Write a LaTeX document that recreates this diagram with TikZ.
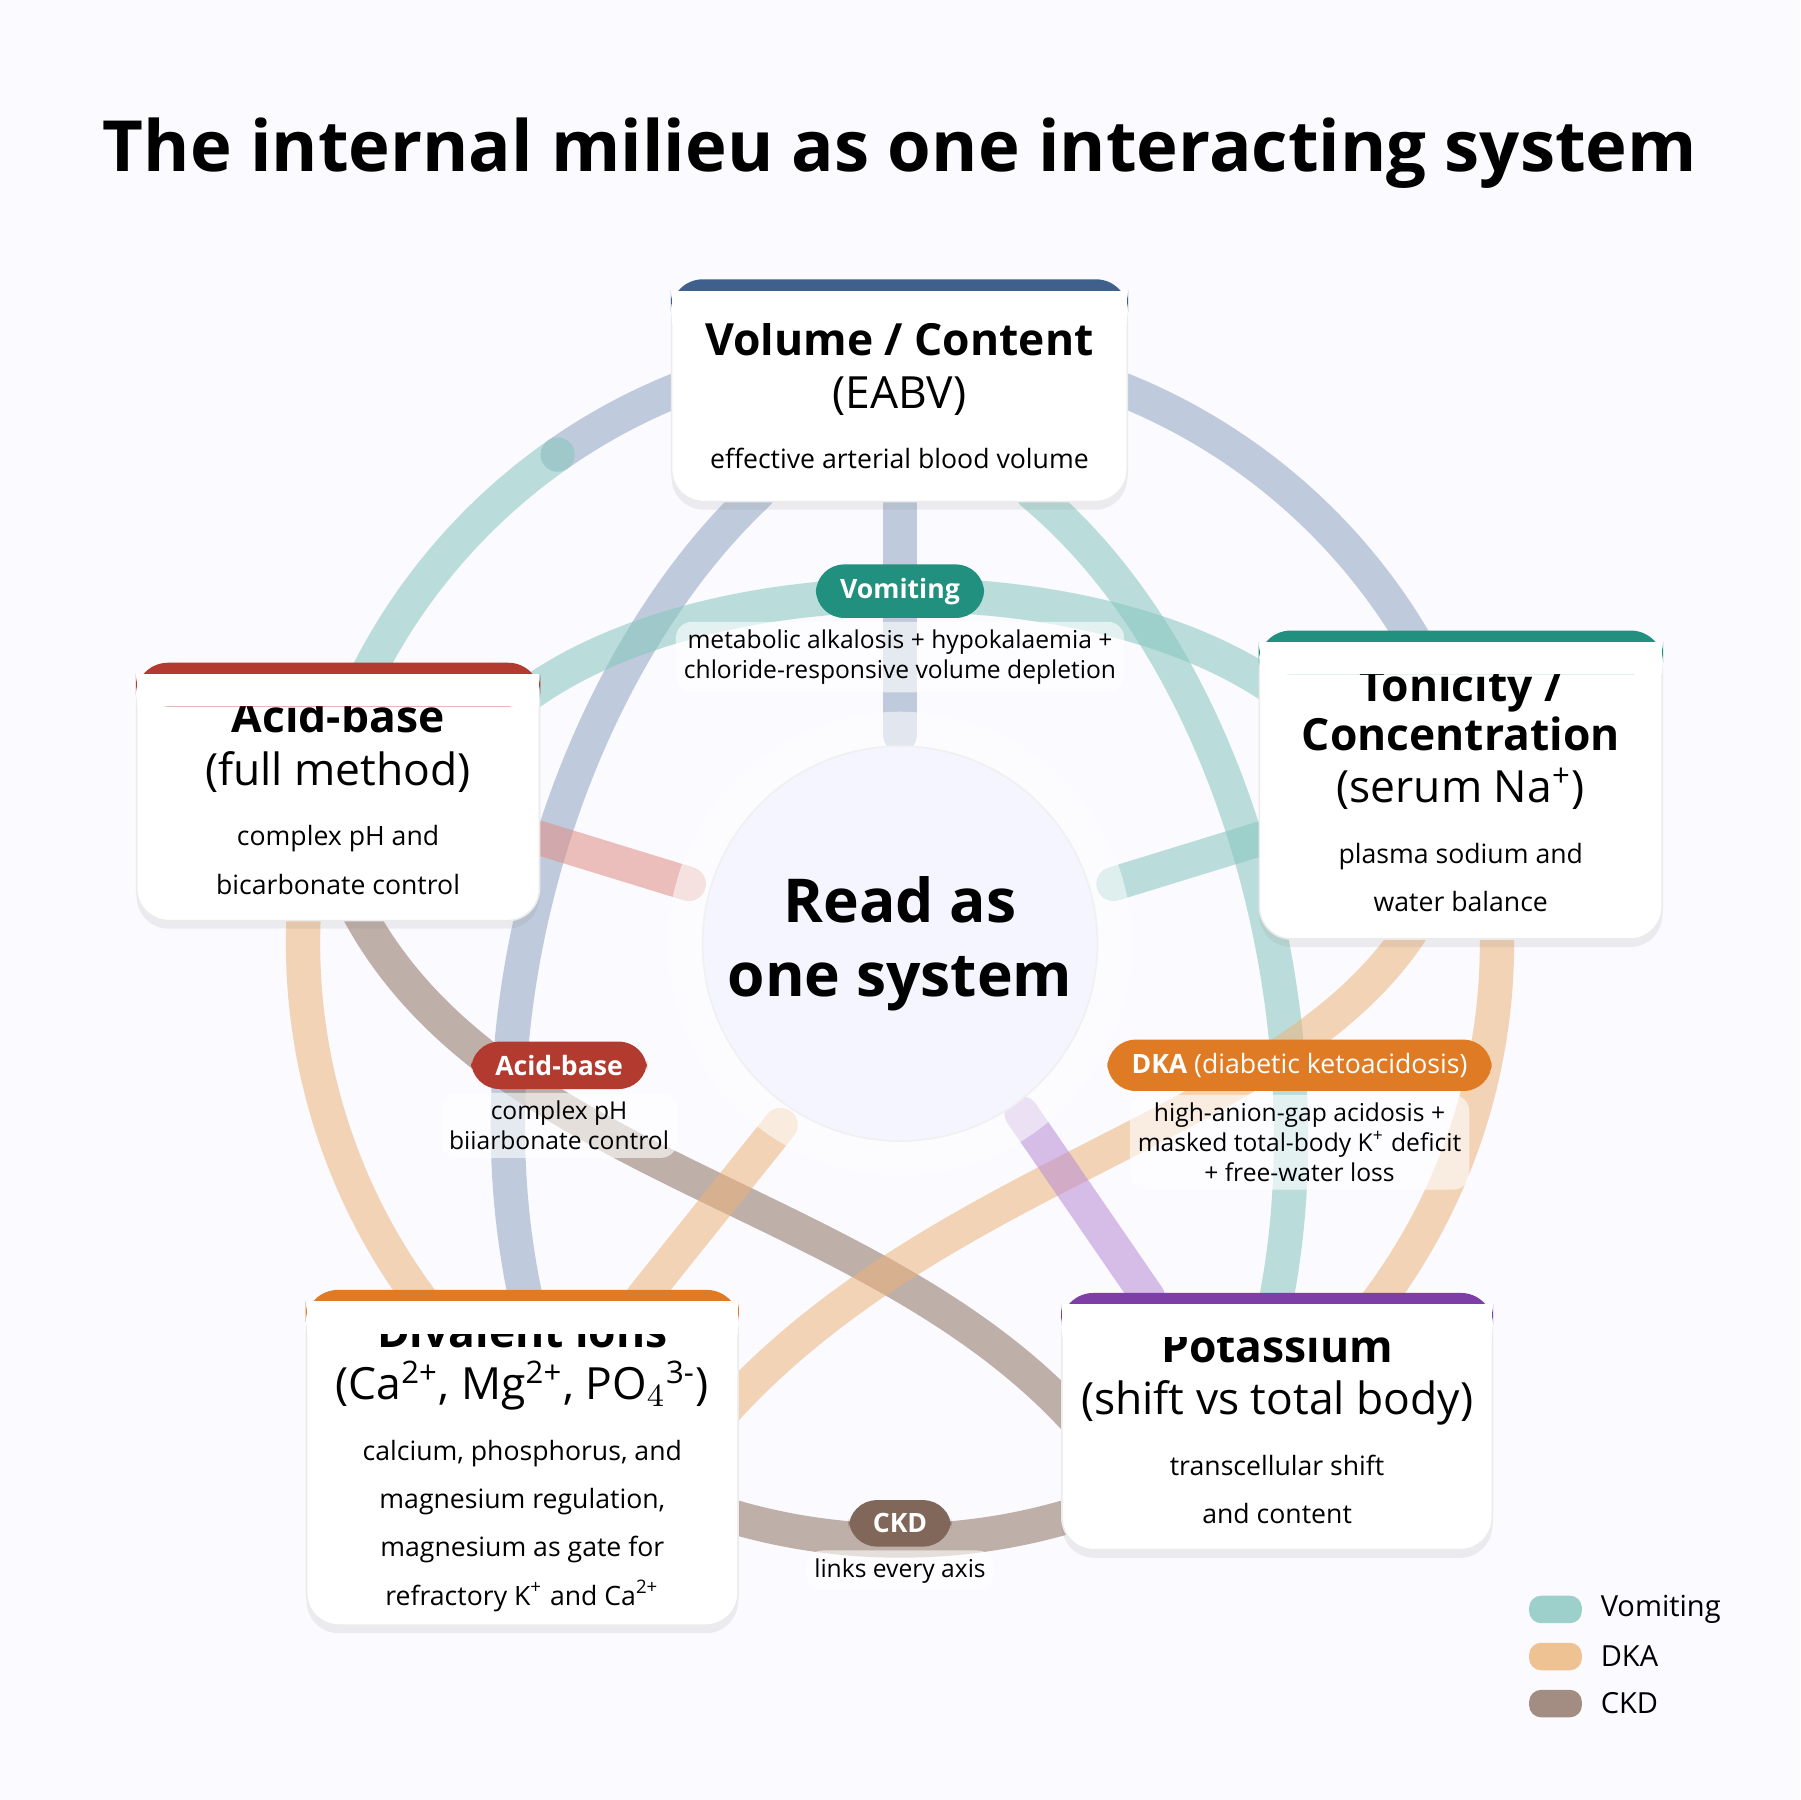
\documentclass[tikz,border=0pt]{standalone}
\usepackage{fontspec}
\setmainfont{Open Sans}
\usetikzlibrary{shadows,positioning}
\definecolor{cvol}{HTML}{3F5F8C}
\definecolor{cton}{HTML}{21907F}
\definecolor{cacid}{HTML}{B23A2E}
\definecolor{cdiv}{HTML}{E07B25}
\definecolor{cpot}{HTML}{7D3FA6}
\definecolor{bblue}{HTML}{8FA6C0}
\definecolor{bteal}{HTML}{86C6BE}
\definecolor{borange}{HTML}{EDB47A}
\definecolor{bbrown}{HTML}{8E7263}
\definecolor{bpurple}{HTML}{B98BD6}
\definecolor{bred}{HTML}{E08C84}
\tikzset{
  band/.style={line width=8.5pt, opacity=0.55, line cap=round},
  box/.style={draw=black!8, fill=white, rounded corners=8pt, align=center,
    drop shadow={opacity=0.12, shadow xshift=0pt, shadow yshift=-2pt}},
  pill/.style={rounded corners=7pt, text=white, font=\fontsize{6.6}{8}\selectfont\bfseries,
    inner xsep=6pt, minimum height=0.4cm},
  note/.style={fill=white, fill opacity=0.6, text opacity=1, rounded corners=4pt,
    align=center, font=\fontsize{6.1}{7.4}\selectfont, inner sep=2pt}
}
\newcommand{\topbar}[2]{%
  \fill[#2, rounded corners=8pt] ([yshift=-0.3cm]#1.north west) rectangle ([yshift=0.08cm]#1.north east);
  \fill[white] ([yshift=-0.3cm,xshift=0.01cm]#1.north west) rectangle ([yshift=-0.02cm,xshift=-0.01cm]#1.north east);}
\begin{document}
\begin{tikzpicture}
\fill[blue!2!white] (0,0) rectangle (15.68,-15.68);
\useasboundingbox (0,0) rectangle (15.68,-15.68);
\node (title) at (7.84,-1.33) {\fontsize{17.5}{20}\selectfont\bfseries The internal milieu as one interacting system};
\coordinate (c) at (7.84,-8.22);
% outer ring
\draw[band,bblue] (c) ++(90:5.2) arc (90:125:5.2);
\draw[band,bteal] (c) ++(125:5.2) arc (125:160:5.2);
\draw[band,borange] (c) ++(160:5.2) arc (160:235:5.2);
\draw[band,bbrown] (c) ++(235:5.2) arc (235:305:5.2);
\draw[band,borange] (c) ++(305:5.2) arc (305:375:5.2);
\draw[band,bblue] (c) ++(15:5.2) arc (15:90:5.2);
% crossing bands
\draw[band,bblue] (6.6,-4.3) .. controls (5.0,-5.8) and (4.0,-8.8) .. (4.6,-11.4);
\draw[band,bteal] (9.0,-4.3) .. controls (10.8,-5.8) and (11.6,-9.0) .. (11.1,-11.4);
\draw[band,bbrown] (3.1,-7.9) .. controls (4.3,-10.2) and (7.6,-10.4) .. (9.4,-12.4);
\draw[band,borange] (12.3,-8.1) .. controls (11.2,-9.8) and (8.2,-10.2) .. (6.3,-12.3);
\draw[band,bteal] (4.6,-6.05) .. controls (6.2,-4.9) and (9.5,-4.9) .. (11.1,-6.0);
% spokes
\draw[band,bblue] (7.84,-4.4) -- (7.84,-6.4);
\draw[band,bred] (4.7,-7.3) -- (6.0,-7.7);
\draw[band,bteal] (11.0,-7.3) -- (9.7,-7.7);
\draw[band,borange] (5.6,-11.3) -- (6.8,-9.8);
\draw[band,bpurple] (10.0,-11.3) -- (8.9,-9.7);
% centre
\fill[white, opacity=0.55] (c) circle (2.02);
\draw[black!6, fill=blue!4!white] (c) circle (1.72);
\node[align=center, font=\fontsize{15}{18.5}\selectfont\bfseries] (hub) at (c) {Read as\\one system};
% boxes
\node[box, minimum width=3.97cm, minimum height=1.85cm] (vol) at (7.835,-3.445)
  {{\fontsize{11}{13}\selectfont\bfseries Volume / Content}\\[1pt]{\fontsize{11}{13}\selectfont (EABV)}\\[3pt]{\fontsize{6.6}{8.6}\selectfont effective arterial blood volume}};
\node[box, minimum width=3.51cm, minimum height=2.6cm] (ton) at (12.725,-6.88)
  {{\fontsize{11}{13.5}\selectfont\bfseries Tonicity /}\\{\fontsize{11}{13.5}\selectfont\bfseries Concentration}\\[1pt]{\fontsize{11}{13}\selectfont (serum Na\textsuperscript{+})}\\[3pt]{\fontsize{6.6}{8.6}\selectfont plasma sodium and}\\{\fontsize{6.6}{8.6}\selectfont water balance}};
\node[box, minimum width=3.51cm, minimum height=2.16cm] (acid) at (2.945,-6.94)
  {{\fontsize{11}{13}\selectfont\bfseries Acid-base}\\[1pt]{\fontsize{11}{13}\selectfont (full method)}\\[3pt]{\fontsize{6.6}{8.6}\selectfont complex pH and}\\{\fontsize{6.6}{8.6}\selectfont bicarbonate control}};
\node[box, minimum width=3.76cm, minimum height=2.78cm] (div) at (4.55,-12.74)
  {{\fontsize{11}{13}\selectfont\bfseries Divalent ions}\\[1pt]{\fontsize{11}{13}\selectfont (Ca\textsuperscript{2+}, Mg\textsuperscript{2+}, PO$_4$\textsuperscript{3-})}\\[3pt]{\fontsize{6.6}{8.8}\selectfont calcium, phosphorus, and}\\{\fontsize{6.6}{8.8}\selectfont magnesium regulation,}\\{\fontsize{6.6}{8.8}\selectfont magnesium as gate for}\\{\fontsize{6.6}{8.8}\selectfont refractory K\textsuperscript{+} and Ca\textsuperscript{2+}}};
\node[box, minimum width=3.75cm, minimum height=2.15cm] (pot) at (11.125,-12.425)
  {{\fontsize{11}{13}\selectfont\bfseries Potassium}\\[1pt]{\fontsize{11}{13}\selectfont (shift vs total body)}\\[3pt]{\fontsize{6.6}{8.6}\selectfont transcellular shift}\\{\fontsize{6.6}{8.6}\selectfont and content}};
\topbar{vol}{cvol}
\topbar{ton}{cton}
\topbar{acid}{cacid}
\topbar{div}{cdiv}
\topbar{pot}{cpot}
% scenario labels
\node[pill, fill=cton] (pvom) at (7.84,-5.15) {Vomiting};
\node[note, below=0.02cm of pvom] (nvom) {metabolic alkalosis + hypokalaemia +\\chloride-responsive volume depletion};
\node[pill, fill=cacid] (pacid) at (4.87,-9.28) {Acid-base};
\node[note, below=0.02cm of pacid] (nacid) {complex pH\\biiarbonate control};
\node[pill, fill=cdiv] (pdka) at (11.32,-9.28) {DKA {\mdseries(diabetic ketoacidosis)}};
\node[note, below=0.02cm of pdka] (ndka) {high-anion-gap acidosis +\\masked total-body K\textsuperscript{+} deficit\\+ free-water loss};
\node[pill, fill=bbrown!90!black] (pckd) at (7.84,-13.27) {CKD};
\node[note, below=0.02cm of pckd] (nckd) {links every axis};
% legend
\foreach \y/\col/\txt in {14.02/bteal/Vomiting,14.43/borange/DKA,14.84/bbrown/CKD}{
  \fill[\col, opacity=0.8, rounded corners=3pt] (13.32,-\y-0.12) rectangle (13.78,-\y+0.12);
  \node[anchor=west, font=\fontsize{7.2}{8}\selectfont] at (13.82,-\y) {\txt};
}
\end{tikzpicture}
\end{document}
